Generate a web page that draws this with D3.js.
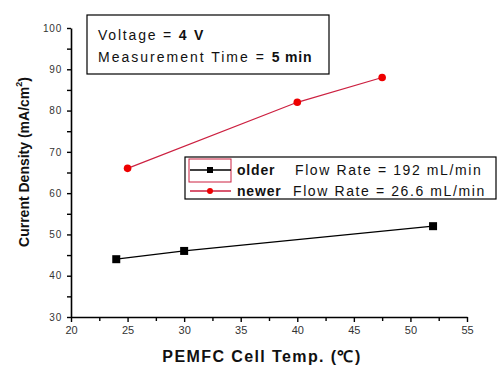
<!DOCTYPE html>
<html>
<head>
<meta charset="utf-8">
<script src="https://cdn.jsdelivr.net/npm/d3@7"></script>
<style>
  body { margin: 0; background: #fff; }
  svg { display: block; font-family: "Liberation Sans", Arial, sans-serif; }
</style>
</head>
<body>
<svg id="chart" width="498" height="365"></svg>
<script>
// data
const olderTemp = [24, 30, 52];
const olderCD = [44, 46, 52];
const newerTemp = [25, 40, 47.5];
const newerCD = [66, 82, 88];

const xTicks = [20, 25, 30, 35, 40, 45, 50, 55];
const xMinor = [22.5, 27.5, 32.5, 37.5, 42.5, 47.5, 52.5];
const yTicks = [30, 40, 50, 60, 70, 80, 90, 100];
const yMinor = [35, 45, 55, 65, 75, 85, 95];

const svg = d3.select("#chart");

const x = d3.scaleLinear().domain([20, 55]).range([71, 467]);
const y = d3.scaleLinear().domain([30, 100]).range([317, 28]);

// axes
const gx = svg.append("g").attr("transform", "translate(0,317)")
  .call(d3.axisBottom(x).tickValues(xTicks).tickSize(5).tickSizeOuter(0).tickPadding(4));
svg.append("g").attr("transform", "translate(0,317)")
  .call(d3.axisBottom(x).tickValues(xMinor).tickSize(4).tickFormat("").tickSizeOuter(0))
  .select(".domain").remove();
const gy = svg.append("g").attr("transform", "translate(71,0)")
  .call(d3.axisLeft(y).tickValues(yTicks).tickSize(4).tickSizeOuter(0).tickPadding(5));
svg.append("g").attr("transform", "translate(71,0)")
  .call(d3.axisLeft(y).tickValues(yMinor).tickSize(4).tickFormat("").tickSizeOuter(0))
  .select(".domain").remove();

svg.selectAll(".domain").attr("stroke", "#000").attr("stroke-width", 1.6);
svg.selectAll(".tick line").attr("stroke", "#000").attr("stroke-width", 1.4);
gx.selectAll("text").attr("font-size", 11).attr("fill", "#333").attr("font-family", "Liberation Sans");
gy.selectAll("text").attr("font-size", 10).attr("fill", "#333").attr("font-family", "Liberation Sans")
  .attr("letter-spacing", 0.8);

// axis titles
svg.append("text")
  .attr("x", 262).attr("y", 362)
  .attr("text-anchor", "middle")
  .attr("font-size", 16).attr("font-weight", "bold")
  .attr("letter-spacing", 1.4)
  .attr("fill", "#111")
  .text("PEMFC Cell Temp. (\u2103)");

const yl = svg.append("text")
  .attr("transform", "translate(29,162) rotate(-90)")
  .attr("text-anchor", "middle")
  .attr("font-size", 14).attr("font-weight", "bold")
  .attr("fill", "#111");
yl.append("tspan").text("Current Density (mA/cm");
yl.append("tspan").attr("font-size", 9).attr("dy", -7).text("2");
yl.append("tspan").attr("dy", 7).text(")");

// lines
const line = d3.line().x(d => x(d[0])).y(d => y(d[1]));
const older = olderTemp.map((t, i) => [t, olderCD[i]]);
const newer = newerTemp.map((t, i) => [t, newerCD[i]]);

svg.append("path").datum(older).attr("d", line)
  .attr("fill", "none").attr("stroke", "#000").attr("stroke-width", 1.2);
svg.append("path").datum(newer).attr("d", line)
  .attr("fill", "none").attr("stroke", "#cc2040").attr("stroke-width", 1.2);

svg.selectAll(".sq").data(older).join("rect")
  .attr("x", d => x(d[0]) - 4).attr("y", d => y(d[1]) - 4)
  .attr("width", 8).attr("height", 8).attr("fill", "#000");
svg.selectAll(".dot").data(newer).join("circle")
  .attr("cx", d => x(d[0])).attr("cy", d => y(d[1]))
  .attr("r", 3.8).attr("fill", "#ee0000");

// info box
svg.append("rect").attr("x", 87).attr("y", 15).attr("width", 242).attr("height", 59)
  .attr("fill", "#fff").attr("stroke", "#000").attr("stroke-width", 1.2);
const t1 = svg.append("text").attr("x", 98).attr("y", 40).attr("font-size", 14)
  .attr("letter-spacing", 1.8).attr("fill", "#111");
t1.append("tspan").text("Voltage = ");
t1.append("tspan").attr("font-weight", "bold").text("4 V");
const t2 = svg.append("text").attr("x", 98).attr("y", 62).attr("font-size", 14)
  .attr("letter-spacing", 2).attr("fill", "#111");
t2.append("tspan").text("Measurement Time = ");
t2.append("tspan").attr("font-weight", "bold").attr("letter-spacing", 0.8).text("5 min");

// legend
const series = [
  { name: "older", rate: "Flow Rate = 192 mL/min", color: "#000", shape: "square", ly: 170 },
  { name: "newer", rate: "Flow Rate = 26.6 mL/min", color: "#cc2040", shape: "circle", ly: 191 }
];
svg.append("rect").attr("x", 185).attr("y", 157).attr("width", 311).attr("height", 42)
  .attr("fill", "#fff").attr("stroke", "#000").attr("stroke-width", 1.2);
svg.append("rect").attr("x", 189).attr("y", 159).attr("width", 42).attr("height", 23)
  .attr("fill", "none").attr("stroke", "#cc2040").attr("stroke-width", 1);
series.forEach(s => {
  svg.append("line").attr("x1", 190).attr("x2", 231).attr("y1", s.ly).attr("y2", s.ly)
    .attr("stroke", s.color).attr("stroke-width", 1.4);
  if (s.shape === "square") {
    svg.append("rect").attr("x", 207).attr("y", s.ly - 3).attr("width", 6).attr("height", 6).attr("fill", "#000");
  } else {
    svg.append("circle").attr("cx", 210).attr("cy", s.ly).attr("r", 3).attr("fill", "#ee0000");
  }
  svg.append("text").attr("x", 237).attr("y", s.ly + 5).attr("font-size", 14)
    .attr("font-weight", "bold").attr("letter-spacing", 0.8).attr("fill", "#111").text(s.name);
  svg.append("text").attr("x", s.name === "older" ? 295 : 293).attr("y", s.ly + 5).attr("font-size", 14)
    .attr("letter-spacing", 1.6).attr("fill", "#111").text(s.rate);
});
</script>
</body>
</html>
